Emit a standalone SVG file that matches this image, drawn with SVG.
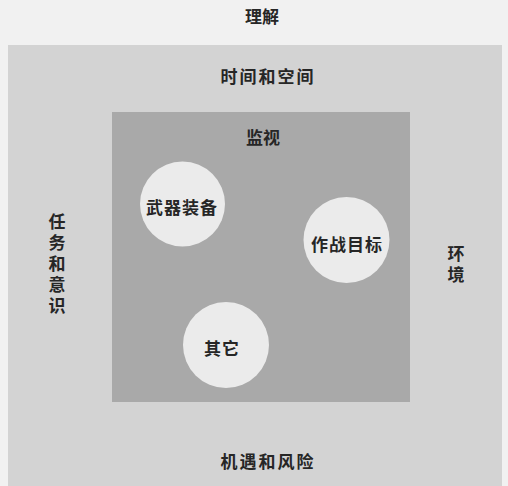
<svg xmlns="http://www.w3.org/2000/svg" width="508" height="486" viewBox="0 0 508 486">
<style>
text{font-family:"Noto Sans CJK SC","Noto Sans CJK TC",sans-serif;fill:#262626;font-size:17px;text-anchor:middle;dominant-baseline:central;font-weight:600}
.vert{writing-mode:vertical-rl;text-anchor:start;letter-spacing:4px}
.circ{fill:#ebebeb}
</style>
<rect x="0" y="0" width="508" height="486" fill="#f1f1f1"/>
<g id="understanding">
<text x="262" y="15">理解</text>
</g>
<g id="outer">
<rect x="8" y="45" width="494" height="441" fill="#d3d3d3"/>
<text x="268" y="75" letter-spacing="2">时间和空间</text>
<text x="268" y="460" letter-spacing="2">机遇和风险</text>
<text class="vert" x="57" y="213">任务和意识</text>
<text class="vert" x="456" y="245">环境</text>
</g>
<g id="surveillance">
<rect x="112" y="112" width="298" height="290" fill="#a9a9a9"/>
<text x="263" y="136">监视</text>
</g>
<g id="weapons">
<circle class="circ" cx="182.5" cy="204" r="42.5"/>
<text x="182" y="206" letter-spacing="1">武器装备</text>
</g>
<g id="targets">
<circle class="circ" cx="346.5" cy="240" r="43"/>
<text x="347" y="243" letter-spacing="1">作战目标</text>
</g>
<g id="other">
<circle class="circ" cx="226" cy="345" r="43"/>
<text x="222" y="347" letter-spacing="1">其它</text>
</g>
<g id="connectors"></g>
</svg>
